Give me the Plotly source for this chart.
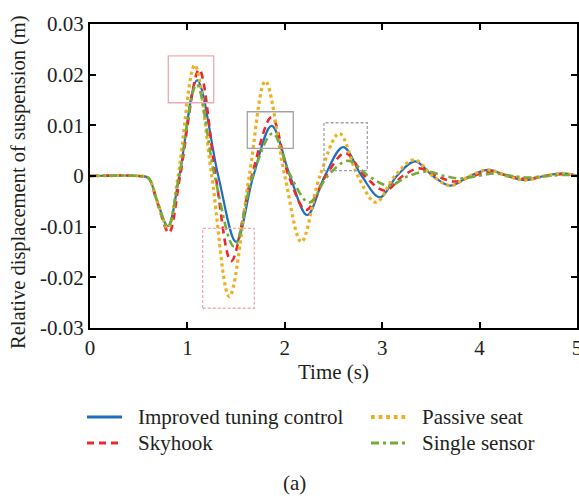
import plotly.graph_objects as go

# ---- data ----
t_improved = [0, 0.5, 0.6, 0.69, 0.80, 0.917, 1.10, 1.317, 1.50, 1.677, 1.865, 2.053, 2.23, 2.41, 2.60, 2.79, 2.975, 3.15, 3.337, 3.52, 3.70, 3.90, 4.09, 4.28, 4.466, 4.66, 4.86, 5.0]
y_improved = [0, 0, -0.0004, -0.0050, -0.0099, 0, 0.0189, 0, -0.0130, 0, 0.0099, 0, -0.0077, 0, 0.0057, 0, -0.0042, 0, 0.0029, 0, -0.0019, 0, 0.0012, 0, -0.0008, 0, 0.0005, 0.0]

t_skyhook = [0, 0.5, 0.6, 0.69, 0.81, 0.925, 1.12, 1.29, 1.45, 1.66, 1.865, 2.04, 2.22, 2.42, 2.62, 2.82, 3.03, 3.21, 3.38, 3.56, 3.74, 3.93, 4.12, 4.30, 4.48, 4.68, 4.88, 5.0]
y_skyhook = [0, 0, -0.0004, -0.0052, -0.0112, 0, 0.0210, 0, -0.0168, 0, 0.0116, 0, -0.0067, 0, 0.0045, 0, -0.0029, 0, 0.0015, 0, -0.0011, 0, 0.0009, 0, -0.0006, 0, 0.0004, 0.0]

t_passive = [0, 0.5, 0.6, 0.69, 0.80, 0.905, 1.075, 1.25, 1.43, 1.635, 1.80, 2.00, 2.17, 2.36, 2.56, 2.75, 2.935, 3.13, 3.33, 3.52, 3.70, 3.90, 4.09, 4.28, 4.466, 4.66, 4.86, 5.0]
y_passive = [0, 0, -0.0004, -0.0050, -0.0103, 0, 0.0219, 0, -0.0238, 0, 0.0187, 0, -0.0130, 0, 0.0084, 0, -0.0052, 0, 0.0032, 0, -0.0019, 0, 0.0012, 0, -0.0008, 0, 0.0005, 0.0]

t_single = [0, 0.5, 0.6, 0.69, 0.80, 0.915, 1.095, 1.28, 1.48, 1.67, 1.875, 2.06, 2.25, 2.44, 2.65, 2.86, 3.07, 3.27, 3.46, 3.64, 3.80, 3.98, 4.15, 4.33, 4.50, 4.70, 4.90, 5.0]
y_single = [0, 0, -0.0004, -0.0050, -0.0100, 0, 0.0181, 0, -0.0139, 0, 0.0084, 0, -0.0052, 0, 0.0030, 0, -0.0019, 0, 0.0009, 0, -0.0005, 0, 0.0005, 0, -0.0003, 0, 0.0002, 0.0]

x_ticks = [0, 1, 2, 3, 4, 5]
y_ticks = [-0.03, -0.02, -0.01, 0, 0.01, 0.02, 0.03]
y_tick_labels = ["-0.03", "-0.02", "-0.01", "0", "0.01", "0.02", "0.03"]

# highlight boxes (t0, t1, y0, y1)
boxes = [
    (0.804, 1.27, 0.01446, 0.0237, "#f2a9b2", "solid"),
    (1.615, 2.087, 0.00546, 0.01268, "#a3a3a3", "solid"),
    (1.157, 1.687, -0.0261, -0.01032, "#f2a9b2", "3px,2px"),
    (2.402, 2.847, 0.00105, 0.01051, "#a3a3a3", "3px,2px"),
]

FONT = "Liberation Serif, Times New Roman, serif"
FS = 21
TXT = "#231f20"

# plot-area pixel geometry
L, R, T, B = 90, 577, 24, 328
W, H = R - L, B - T
def px(x):
    return (x - L) / W
def py(y):
    return (B - y) / H

fig = go.Figure()
series = [
    ("Improved tuning control", t_improved, y_improved, "#1f6fbf", "solid", 2.2),
    ("Skyhook", t_skyhook, y_skyhook, "#f0282d", "7px,5px", 2.6),
    ("Passive seat", t_passive, y_passive, "#edb120", "dot", 3.2),
    ("Single sensor", t_single, y_single, "#74ac3a", "8px,4px,3px,4px", 2.6),
]
for name, t, y, c, d, w in series:
    fig.add_trace(go.Scatter(x=t, y=y, mode="lines", name=name, showlegend=False,
                             line=dict(color=c, dash=d, width=w, shape="spline", smoothing=1.0)))

for x0, x1, y0, y1, c, d in boxes:
    fig.add_shape(type="rect", x0=x0, x1=x1, y0=y0, y1=y1, xref="x", yref="y",
                  line=dict(color=c, width=1.3, dash=d), layer="above")

# manual legend: two columns, two rows
legend_pos = {
    "Improved tuning control": (87, 122, 136, 417),
    "Skyhook": (87, 122, 136, 443),
    "Passive seat": (371, 406, 420, 417),
    "Single sensor": (371, 406, 420, 443),
}
for name, t, y, c, d, w in series:
    lx0, lx1, tx, ty = legend_pos[name]
    fig.add_shape(type="line", xref="paper", yref="paper", x0=px(lx0), x1=px(lx1),
                  y0=py(ty), y1=py(ty), line=dict(color=c, dash=d, width=w + 0.6))
    fig.add_annotation(text=name, xref="paper", yref="paper", x=px(tx), y=py(ty),
                       xanchor="left", yanchor="middle", showarrow=False,
                       font=dict(family=FONT, size=FS, color=TXT))

axis_common = dict(showline=True, linecolor="black", linewidth=2.2, mirror="ticks",
                   ticks="inside", ticklen=6, tickwidth=2, tickcolor="black",
                   showgrid=False, zeroline=False, ticklabeloverflow="allow",
                   tickfont=dict(family=FONT, size=FS, color=TXT))

fig.update_xaxes(range=[0, 5], tickvals=x_ticks, **axis_common)
fig.update_yaxes(range=[-0.03, 0.03], tickvals=y_ticks, ticktext=y_tick_labels, **axis_common)

fig.add_annotation(text="Relative displacement of suspension (m)", xref="paper", yref="paper",
                   x=px(18), y=py(182), textangle=-90, showarrow=False,
                   xanchor="center", yanchor="middle", font=dict(family=FONT, size=FS - 0.5, color=TXT))
fig.add_annotation(text="Time (s)", xref="paper", yref="paper",
                   x=px(333), y=py(372), showarrow=False,
                   xanchor="center", yanchor="middle", font=dict(family=FONT, size=FS, color=TXT))
fig.add_annotation(text="(a)", xref="paper", yref="paper",
                   x=px(294), y=py(483), showarrow=False,
                   xanchor="center", yanchor="middle", font=dict(family=FONT, size=FS, color=TXT))

fig.update_layout(
    width=579, height=498,
    margin=dict(l=L, r=579 - R, t=T, b=498 - B, autoexpand=False),
    paper_bgcolor="white", plot_bgcolor="white",
    showlegend=False,
)

fig.write_html("out.html")
